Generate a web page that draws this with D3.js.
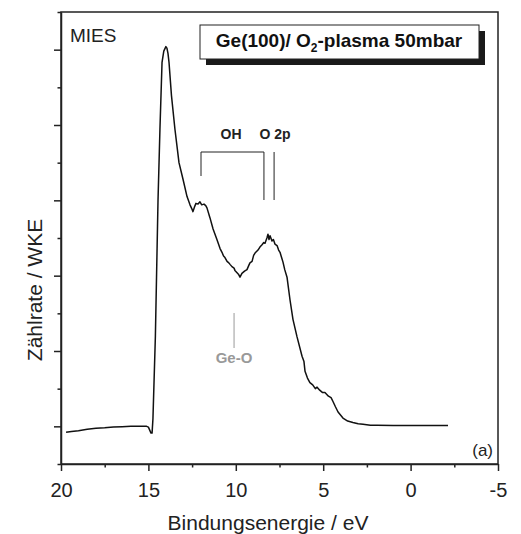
<!DOCTYPE html>
<html>
<head>
<meta charset="utf-8">
<script src="https://cdn.jsdelivr.net/npm/d3@7"></script>
<style>
  body { margin: 0; background: #fff; }
  svg { display: block; font-family: "Liberation Sans", Arial, sans-serif; }
</style>
</head>
<body>
<div id="container"></div>
<script>
// spectrum: binding energy (eV) vs count rate (arb. units)
const energy = [
  19.71, 19.4, 19.0, 18.5, 18.0, 17.5, 17.0, 16.5, 16.0, 15.5, 15.1, 15.0, 14.85, 14.79,
  14.74, 14.6, 14.45, 14.34, 14.22, 14.12, 14.0, 13.94, 13.88, 13.82, 13.68, 13.48,
  13.25, 13.02, 12.79, 12.62, 12.5, 12.45, 12.35, 12.28, 12.16, 12.05, 11.95, 11.82,
  11.72, 11.65, 11.48, 11.3, 11.08, 10.9, 10.79, 10.7, 10.62, 10.5, 10.4, 10.33,
  10.22, 10.1, 10.05, 9.93, 9.85, 9.76, 9.65, 9.5, 9.36, 9.25, 9.19, 9.07, 8.98,
  8.9, 8.73, 8.62, 8.5, 8.4, 8.33, 8.22, 8.16, 8.1, 8.04, 7.93, 7.85, 7.76, 7.64,
  7.55, 7.47, 7.38, 7.3, 7.2, 7.07, 6.9, 6.73, 6.5, 6.21, 6.1, 6.04, 5.9, 5.76,
  5.6, 5.45, 5.35, 5.2, 5.05, 4.9, 4.7, 4.55, 4.44, 4.3, 4.15, 3.87, 3.6, 3.3,
  3.0, 2.72, 2.3, 1.92, 1.0, 0.0, -1.0, -2.14
];
const counts = [
  -0.08, -0.07, -0.06, -0.04, -0.025, -0.02, -0.01, -0.005, 0, 0, 0, -0.01, -0.09, -0.09,
  0.1, 1.2, 3.0, 3.94, 4.83, 4.98, 5.04, 5.02, 4.95, 4.83, 4.39, 3.94,
  3.5, 3.28, 3.05, 2.94, 2.88, 2.85, 2.92, 2.96, 2.95, 2.98, 2.94, 2.95,
  2.93, 2.9, 2.77, 2.62, 2.48, 2.36, 2.31, 2.26, 2.24, 2.19, 2.17, 2.15,
  2.12, 2.1, 2.07, 2.04, 2.02, 1.98, 2.03, 2.06, 2.08, 2.14, 2.17, 2.19, 2.27,
  2.3, 2.34, 2.38, 2.41, 2.44, 2.43, 2.5, 2.55, 2.48, 2.53, 2.46, 2.48, 2.42, 2.4,
  2.34, 2.31, 2.24, 2.18, 2.08, 1.98, 1.68, 1.42, 1.19, 0.93, 0.86, 0.73, 0.64, 0.58,
  0.55, 0.5, 0.52, 0.48, 0.45, 0.45, 0.4, 0.38, 0.33, 0.26, 0.19, 0.11, 0.07, 0.05,
  0.035, 0.027, 0.015, 0.013, 0.01, 0.01, 0.01, 0.01
];

const xMajor = [20, 15, 10, 5, 0, -5];
const xMinor = [17.5, 12.5, 7.5, 2.5, -2.5];
const yMajor = [0, 1, 2, 3, 4, 5];
const yMinor = [-0.5, 0.5, 1.5, 2.5, 3.5, 4.5, 5.5];

// annotation positions (eV)
const ohBracket = [11.99, 8.39];
const o2pLine = 7.81;
const geOLine = 10.1;

const W = 521, H = 534;
const mLeft = 61, mRight = 498, mTop = 12, mBottom = 464;

const svg = d3.select("#container").append("svg")
  .attr("width", W).attr("height", H);

const x = d3.scaleLinear().domain([20, -5]).range([mLeft, mRight]);
const y = d3.scaleLinear().domain([-0.5, 5.5]).range([mBottom, mTop]);

const ink = "#222";

// bottom axis
const xAxis = svg.append("g").attr("transform", `translate(0,${mBottom})`)
  .call(d3.axisBottom(x).tickValues(xMajor).tickSize(7).tickSizeOuter(0).tickFormat(d => String(d)));
svg.append("g").attr("transform", `translate(0,${mBottom})`)
  .call(d3.axisBottom(x).tickValues(xMinor).tickSize(3.5).tickSizeOuter(0).tickFormat(""))
  .select(".domain").remove();
xAxis.selectAll("text")
  .attr("y", 33).attr("dy", 0)
  .attr("font-family", "Liberation Sans, Arial, sans-serif")
  .style("font-size", "20px").style("fill", ink);

// left axis
svg.append("g").attr("transform", `translate(${mLeft},0)`)
  .call(d3.axisLeft(y).tickValues(yMajor).tickSize(7).tickSizeOuter(0).tickFormat(""));
svg.append("g").attr("transform", `translate(${mLeft},0)`)
  .call(d3.axisLeft(y).tickValues(yMinor).tickSize(3.5).tickSizeOuter(0).tickFormat(""))
  .select(".domain").remove();

svg.selectAll(".domain, .tick line").attr("stroke", ink).attr("stroke-width", 1.5);

// frame
svg.append("rect")
  .attr("x", mLeft).attr("y", mTop)
  .attr("width", mRight - mLeft).attr("height", mBottom - mTop)
  .attr("fill", "none").attr("stroke", ink).attr("stroke-width", 1.5);

// spectrum
const pts = energy.map((e, i) => [e, counts[i]]);
svg.append("path")
  .datum(pts)
  .attr("fill", "none")
  .attr("stroke", "#111")
  .attr("stroke-width", 1.5)
  .attr("stroke-linejoin", "round")
  .attr("d", d3.line().x(d => x(d[0])).y(d => y(d[1])));

// OH bracket and O 2p marker
const bTop = 152, bLeftBot = 176, bRightBot = 200;
svg.append("path")
  .attr("d", `M${x(ohBracket[0])},${bLeftBot}V${bTop}H${x(ohBracket[1])}V${bRightBot}`)
  .attr("fill", "none").attr("stroke", ink).attr("stroke-width", 1);
svg.append("line")
  .attr("x1", x(o2pLine)).attr("x2", x(o2pLine))
  .attr("y1", bTop).attr("y2", bRightBot)
  .attr("stroke", ink).attr("stroke-width", 1);
svg.append("text").attr("x", 231).attr("y", 139)
  .attr("text-anchor", "middle").attr("font-weight", "bold")
  .style("font-size", "14px").attr("fill", ink).text("OH");
svg.append("text").attr("x", 275).attr("y", 139)
  .attr("text-anchor", "middle").attr("font-weight", "bold")
  .style("font-size", "14px").attr("fill", ink).text("O 2p");

// Ge-O marker
svg.append("line")
  .attr("x1", x(geOLine)).attr("x2", x(geOLine))
  .attr("y1", 313).attr("y2", 348)
  .attr("stroke", "#999").attr("stroke-width", 1);
svg.append("text").attr("x", x(geOLine)).attr("y", 363)
  .attr("text-anchor", "middle").attr("font-weight", "bold")
  .style("font-size", "15px").attr("fill", "#999").text("Ge-O");

// title box with shadow
svg.append("rect").attr("x", 206).attr("y", 31).attr("width", 279).attr("height", 34).attr("fill", "#1a1a1a");
svg.append("rect").attr("x", 200).attr("y", 25).attr("width", 279).attr("height", 34)
  .attr("fill", "#fff").attr("stroke", ink).attr("stroke-width", 1);
const title = svg.append("text").attr("x", 339).attr("y", 47)
  .attr("text-anchor", "middle").attr("font-weight", "bold")
  .style("font-size", "19px").attr("fill", "#111");
title.append("tspan").text("Ge(100)/ O");
title.append("tspan").attr("dy", 5).style("font-size", "12px").text("2");
title.append("tspan").attr("dy", -5).text("-plasma 50mbar");

// MIES and (a)
svg.append("text").attr("x", 70).attr("y", 42)
  .style("font-size", "19px").attr("fill", ink).text("MIES");
svg.append("text").attr("x", 493).attr("y", 456).attr("text-anchor", "end")
  .style("font-size", "17px").attr("fill", ink).text("(a)");

// axis titles
svg.append("text").attr("x", 268).attr("y", 530).attr("text-anchor", "middle")
  .style("font-size", "21px").attr("fill", ink).text("Bindungsenergie / eV");
svg.append("text").attr("transform", "translate(42,290) rotate(-90)")
  .attr("text-anchor", "middle")
  .style("font-size", "21px").attr("fill", ink).text("Zählrate / WKE");
</script>
</body>
</html>
